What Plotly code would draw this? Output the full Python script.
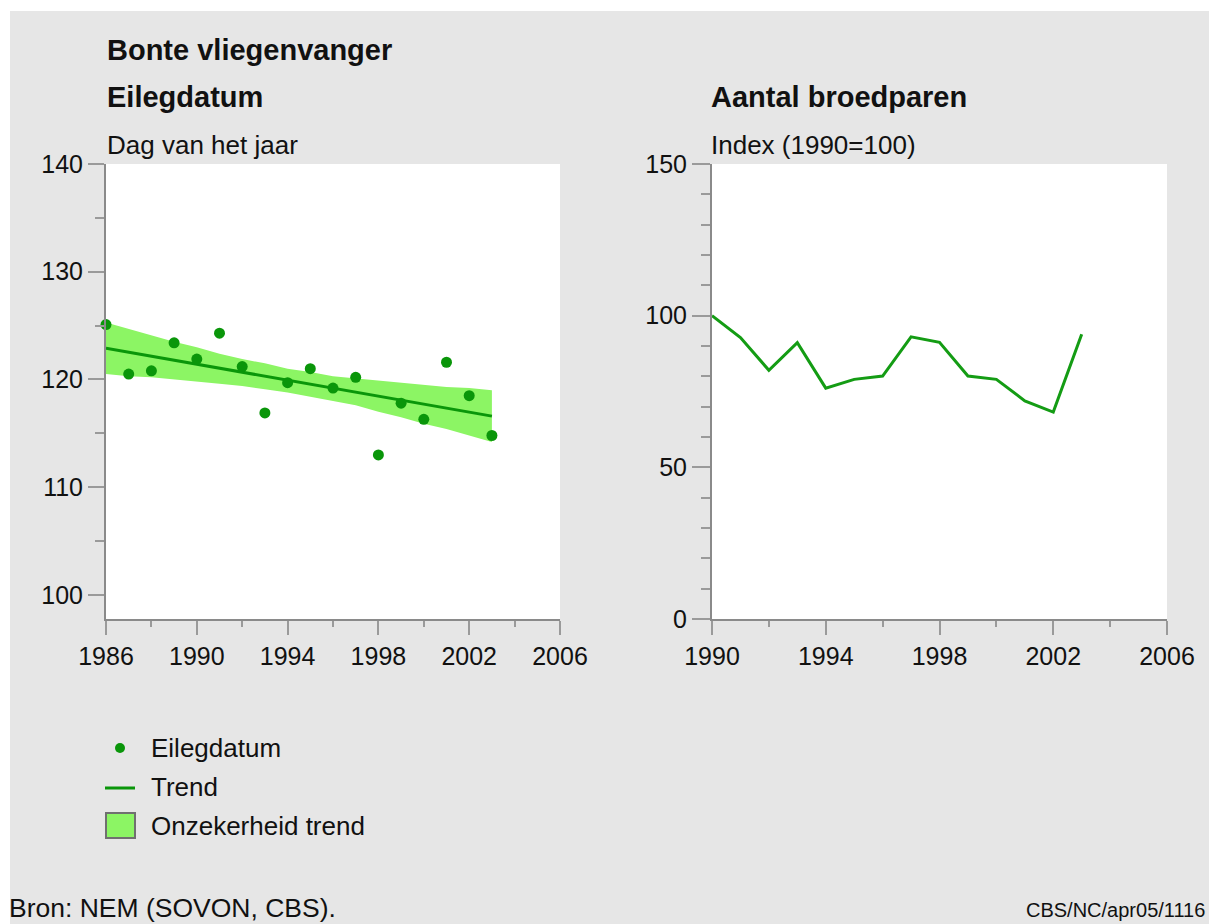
import plotly.graph_objects as go

# ---------------- data ----------------
egg_years = list(range(1986, 2004))
egg_day = [125.1, 120.5, 120.8, 123.4, 121.9, 124.3, 121.2, 116.9, 119.7,
           121.0, 119.2, 120.2, 113.0, 117.8, 116.3, 121.6, 118.5, 114.8]
trend_years = [1986, 2003]
trend_day = [122.9, 116.6]
band_upper = [125.3, 124.7, 124.1, 123.5, 123.0, 122.4, 121.9, 121.5, 121.0,
              120.7, 120.3, 120.1, 119.9, 119.7, 119.5, 119.3, 119.2, 119.0]
band_lower = [120.5, 120.3, 120.2, 120.0, 119.8, 119.6, 119.4, 119.1, 118.8,
              118.4, 118.0, 117.6, 117.0, 116.5, 115.9, 115.4, 114.8, 114.2]

pair_years = list(range(1990, 2004))
pair_index = [100, 92.8, 82.0, 91.1, 76.1, 79.0, 80.1, 93.0, 91.2, 80.1,
              79.0, 71.9, 68.2, 93.9]

left_xticks = [1986, 1990, 1994, 1998, 2002, 2006]
left_xminor = [1988, 1992, 1996, 2000, 2004]
left_yticks = [100, 110, 120, 130, 140]
left_yminor = [105, 115, 125, 135]
right_xticks = [1990, 1994, 1998, 2002, 2006]
right_xminor = [1992, 1996, 2000, 2004]
right_yticks = [0, 50, 100, 150]
right_yminor = [10, 20, 30, 40, 60, 70, 80, 90, 110, 120, 130, 140]

# ---------------- style ----------------
W, H = 1209, 924
BG = "#e6e6e6"
GREEN = "#0a960a"
BAND = "#8cf564"
AXIS = "#8a8a8a"
TICK = "#9a9a9a"
FONT = "Liberation Sans, Arial, sans-serif"
TXT = "#111111"


def px(x):
    return x / W


def py(y):
    return 1 - y / H


fig = go.Figure()

fig.add_trace(go.Scatter(
    x=egg_years + egg_years[::-1], y=band_upper + band_lower[::-1],
    fill="toself", fillcolor=BAND, line=dict(width=0), mode="lines",
    hoverinfo="skip", xaxis="x", yaxis="y", showlegend=False))
fig.add_trace(go.Scatter(
    x=trend_years, y=trend_day, mode="lines",
    line=dict(color=GREEN, width=3), xaxis="x", yaxis="y", showlegend=False))
fig.add_trace(go.Scatter(
    x=egg_years, y=egg_day, mode="markers",
    marker=dict(color=GREEN, size=11), xaxis="x", yaxis="y",
    showlegend=False, cliponaxis=False))
fig.add_trace(go.Scatter(
    x=pair_years, y=pair_index, mode="lines",
    line=dict(color="#149c14", width=3), xaxis="x2", yaxis="y2",
    showlegend=False))

tickfont = dict(family=FONT, size=25, color=TXT)


def xaxis(dom, rng, tv, mv, anchor):
    return dict(domain=dom, range=rng, anchor=anchor, tickmode="array",
                tickvals=tv, ticktext=[str(v) for v in tv], showgrid=False,
                zeroline=False, showline=True, linecolor=AXIS, linewidth=2,
                ticks="outside", ticklen=14, tickwidth=2, tickcolor=TICK,
                tickfont=tickfont, automargin=False,
                minor=dict(tickmode="array", tickvals=mv, ticks="outside",
                           ticklen=6, tickwidth=2, tickcolor=TICK,
                           showgrid=False))


def yaxis(dom, rng, tv, mv, anchor, tl, ml):
    return dict(domain=dom, range=rng, anchor=anchor, tickmode="array",
                tickvals=tv, ticktext=[str(v) for v in tv], showgrid=False,
                zeroline=False, showline=True, linecolor=AXIS, linewidth=2,
                ticks="outside", ticklen=tl, tickwidth=2, tickcolor=TICK,
                tickfont=tickfont, automargin=False,
                minor=dict(tickmode="array", tickvals=mv, ticks="outside",
                           ticklen=ml, tickwidth=2, tickcolor=TICK,
                           showgrid=False))


ydom = [py(619), py(164)]
fig.update_layout(
    width=W, height=H,
    margin=dict(l=0, r=0, t=0, b=0, pad=0, autoexpand=False),
    paper_bgcolor=BG, plot_bgcolor="white", showlegend=False,
    font=dict(family=FONT, color=TXT),
    xaxis=xaxis([px(106), px(560)], [1986, 2006], left_xticks, left_xminor, "y"),
    yaxis=yaxis(ydom, [97.77, 140], left_yticks, left_yminor, "x", 16, 9),
    xaxis2=xaxis([px(712), px(1167)], [1990, 2006], right_xticks, right_xminor, "y2"),
    yaxis2=yaxis(ydom, [0, 150], right_yticks, right_yminor, "x2", 18, 9),
)

shapes = [
    # white outer margins of the original image
    dict(type="rect", xref="paper", yref="paper", x0=0, x1=1, y0=py(11), y1=1,
         fillcolor="white", line=dict(width=0), layer="above"),
    dict(type="rect", xref="paper", yref="paper", x0=0, x1=px(10), y0=0, y1=1,
         fillcolor="white", line=dict(width=0), layer="above"),
    # legend symbols
    dict(type="circle", xref="paper", yref="paper", x0=px(115), x1=px(125),
         y0=py(753), y1=py(743), fillcolor=GREEN, line=dict(width=0)),
    dict(type="line", xref="paper", yref="paper", x0=px(105), x1=px(135),
         y0=py(788), y1=py(788), line=dict(color=GREEN, width=3)),
    dict(type="rect", xref="paper", yref="paper", x0=px(106), x1=px(135),
         y0=py(838), y1=py(813), fillcolor=BAND, line=dict(color="#707070", width=2)),
]
fig.update_layout(shapes=shapes)


def ann(text, x, y, size, bold=False, xanchor="left"):
    fig.add_annotation(
        text=f"<b>{text}</b>" if bold else text, xref="paper", yref="paper",
        x=px(x), y=py(y), xanchor=xanchor, yanchor="middle", showarrow=False,
        borderpad=0, font=dict(family=FONT, size=size, color=TXT))


ann("Bonte vliegenvanger", 106, 50, 29, bold=True)
ann("Eilegdatum", 106, 97, 29, bold=True)
ann("Aantal broedparen", 710, 97, 29, bold=True)
ann("Dag van het jaar", 106, 145, 26)
ann("Index (1990=100)", 710, 145, 26)
ann("Eilegdatum", 150, 748, 26)
ann("Trend", 150, 787, 26)
ann("Onzekerheid trend", 150, 826, 26)
ann("Bron: NEM (SOVON, CBS).", 8, 908, 26.5)
ann("CBS/NC/apr05/1116", 1206, 910, 20, xanchor="right")

fig.write_html(
    "out.html",
    config={"displayModeBar": False},
    post_script="document.body.style.margin='0';"
                "document.body.style.overflow='hidden';")
